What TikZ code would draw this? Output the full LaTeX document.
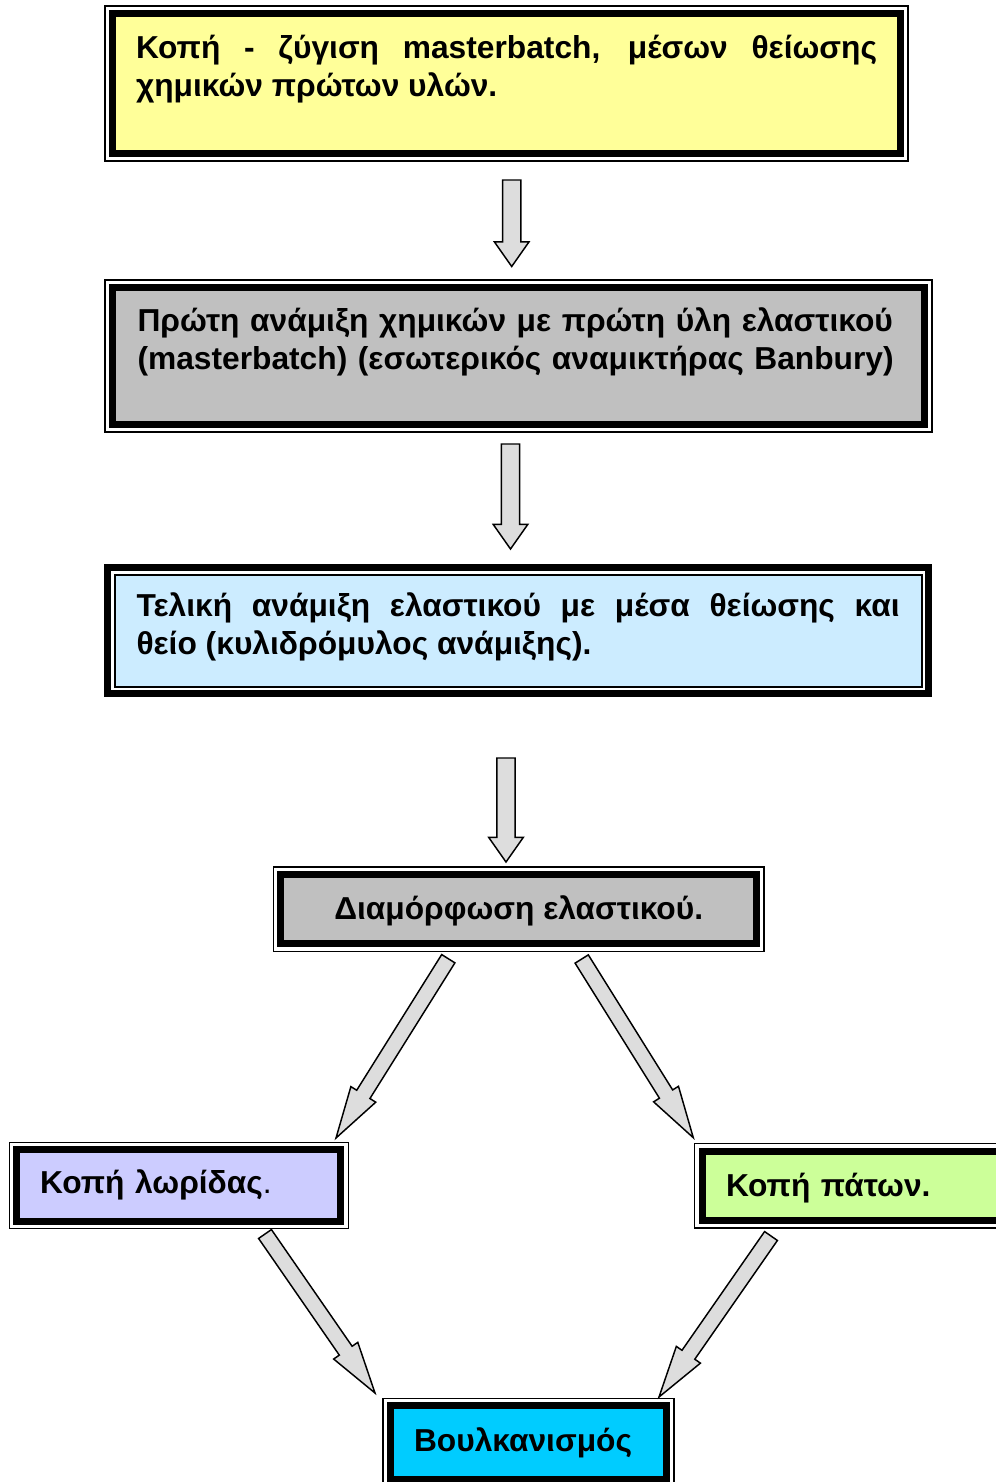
\documentclass[tikz,border=0pt]{standalone}
\usepackage{fontspec}
\setmainfont{Liberation Sans}
\usepackage{xcolor}
\usetikzlibrary{calc}
\definecolor{stageyellow}{HTML}{FFFF99}
\definecolor{stagegray}{HTML}{C0C0C0}
\definecolor{stageblue}{HTML}{CCECFF}
\definecolor{stagelilac}{HTML}{CCCCFF}
\definecolor{stagegreen}{HTML}{CCFF99}
\definecolor{stagecyan}{HTML}{00CCFF}
\definecolor{arrowgray}{HTML}{DDDDDD}
% block arrow: from, to, half shaft, half head, head length
\newcommand\blockarrow[5]{%
  \coordinate (hb) at ($(#2)!#5!(#1)$);
  \draw[line width=1.1pt,fill=arrowgray,line join=miter]
    ($(#1)!#3!90:(#2)$) -- ($(hb)!#3!-90:(#1)$) -- ($(hb)!#4!-90:(#1)$) -- (#2)
    -- ($(hb)!#4!90:(#1)$) -- ($(hb)!#3!90:(#1)$) -- ($(#1)!#3!-90:(#2)$) -- cycle;}

\begin{document}
\begin{tikzpicture}[x=0.75pt,y=-0.75pt,
  stage/.style={draw,line width=5.25pt,inner sep=0pt,outer sep=0pt,anchor=north west,
    preaction={draw,line width=12.3pt},preaction={draw=white,line width=10.2pt},
    font=\fontsize{23.8pt}{28.5pt}\selectfont\bfseries},
  stagethin/.style={stage,line width=1.5pt,
    preaction={draw,line width=15.75pt},preaction={draw=white,line width=5.25pt}}]
  \useasboundingbox (0,0) rectangle (996,1482);
  \clip (0,0) rectangle (996,1482);

  \node[stage,fill=stageyellow,minimum width=591pt,minimum height=105pt,
    text width=555.75pt,align=justify,text height=33.9pt,text depth=71.1pt] (cut) at (112.5,13.5)
    {Κοπή - ζύγιση masterbatch, μέσων θείωσης\linebreak χημικών πρώτων υλών.};
  \node[stage,fill=stagegray,minimum width=609pt,minimum height=102.75pt,
    text width=571.5pt,align=left,text height=32.7pt,text depth=70.05pt] (mix) at (112.5,287.5)
    {Πρώτη ανάμιξη χημικών με πρώτη ύλη ελαστικού\\\mbox{(masterbatch) (εσωτερικός αναμικτήρας Banbury)}};
  \node[stagethin,fill=stageblue,minimum width=605.25pt,minimum height=84pt,
    text width=572.25pt,align=justify,text height=31.7pt,text depth=52.3pt] (final) at (114.5,574.5)
    {Τελική ανάμιξη ελαστικού με μέσα θείωσης και\linebreak θείο (κυλιδρόμυλος ανάμιξης).};
  \node[stage,fill=stagegray,minimum width=356.8pt,minimum height=51.9pt,
    text height=33.8pt,text depth=18.1pt] (shape) at (280.8,874.5)
    {Διαμόρφωση ελαστικού.};
  \node[stage,fill=stagelilac,minimum width=243pt,minimum height=53.5pt,
    text width=207.75pt,align=left,text height=33.2pt,text depth=20.3pt] (strip) at (16.7,1149.7)
    {Κοπή λωρίδας{\mdseries .}};
  \node[stage,fill=stagegreen,minimum width=255pt,minimum height=52.1pt,
    text width=219pt,align=left,text height=34pt,text depth=18.2pt] (soles) at (702,1151)
    {Κοπή πάτων.};
  \node[stage,fill=stagecyan,minimum width=207pt,minimum height=55pt,
    text width=171.75pt,align=left,text height=34.2pt,text depth=20.8pt] (vulc) at (390.5,1405.7)
    {Βουλκανισμός};

  % arrow ends
  \coordinate (a1s) at (511.7,180);   \coordinate (a1t) at (511.7,266.5);
  \coordinate (a2s) at (510.5,444);   \coordinate (a2t) at (510.5,549);
  \coordinate (a3s) at (506,758);     \coordinate (a3t) at (506,862);
  \coordinate (a4s) at (448.3,958.7); \coordinate (a4t) at (336,1138);
  \coordinate (a5s) at (581.7,959);   \coordinate (a5t) at (693.3,1137.7);
  \coordinate (a6s) at (265,1234);    \coordinate (a6t) at (375,1393);
  \coordinate (a7s) at (771,1236);    \coordinate (a7t) at (659,1397);
  \foreach \s/\t in {a1s/a1t,a2s/a2t,a3s/a3t}
    {\blockarrow{\s}{\t}{6.8pt}{13pt}{18.5pt}}
  \foreach \s/\t in {a4s/a4t,a5s/a5t,a6s/a6t,a7s/a7t}
    {\blockarrow{\s}{\t}{5.85pt}{11pt}{38.6pt}}
\end{tikzpicture}
\end{document}
